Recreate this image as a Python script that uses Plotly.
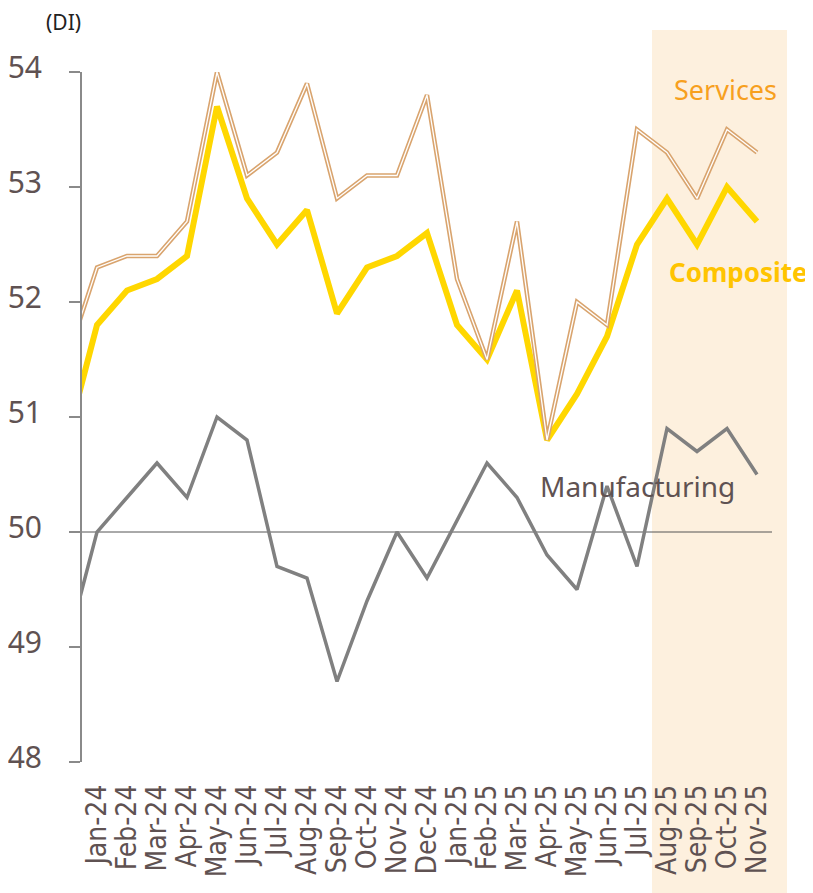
import plotly.graph_objects as go

# Dec-23 is included so the lines enter from the axis edge; it lies outside the visible range
months = ["Dec-23", "Jan-24", "Feb-24", "Mar-24", "Apr-24", "May-24", "Jun-24", "Jul-24", "Aug-24",
          "Sep-24", "Oct-24", "Nov-24", "Dec-24", "Jan-25", "Feb-25", "Mar-25", "Apr-25",
          "May-25", "Jun-25", "Jul-25", "Aug-25", "Sep-25", "Oct-25", "Nov-25"]
services = [51.5, 52.3, 52.4, 52.4, 52.7, 54.0, 53.1, 53.3, 53.9, 52.9, 53.1, 53.1, 53.8,
            52.2, 51.5, 52.7, 50.8, 52.0, 51.8, 53.5, 53.3, 52.9, 53.5, 53.3]
composite = [50.8, 51.8, 52.1, 52.2, 52.4, 53.7, 52.9, 52.5, 52.8, 51.9, 52.3, 52.4, 52.6,
             51.8, 51.5, 52.1, 50.8, 51.2, 51.7, 52.5, 52.9, 52.5, 53.0, 52.7]
manufacturing = [49.0, 50.0, 50.3, 50.6, 50.3, 51.0, 50.8, 49.7, 49.6, 48.7, 49.4, 50.0, 49.6,
                 50.1, 50.6, 50.3, 49.8, 49.5, 50.4, 49.7, 50.9, 50.7, 50.9, 50.5]
y_ticks = [48, 49, 50, 51, 52, 53, 54]
shown_months = months[1:]
highlight_start = "Aug-25"

XFONT = "DejaVu Sans Condensed, Liberation Sans Narrow, sans-serif"
TXT = "#5f5252"

fig = go.Figure()
fig.add_trace(go.Scatter(x=months, y=manufacturing, mode="lines",
                         line=dict(color="#808080", width=3.5), hoverinfo="skip"))
fig.add_trace(go.Scatter(x=months, y=composite, mode="lines",
                         line=dict(color="#FFD700", width=6), hoverinfo="skip"))
fig.add_trace(go.Scatter(x=months, y=services, mode="lines",
                         line=dict(color="#D9A46E", width=4.5), hoverinfo="skip"))
fig.add_trace(go.Scatter(x=months, y=services, mode="lines",
                         line=dict(color="#ffffff", width=1.3), hoverinfo="skip"))

n = len(months)
x_lo, x_hi = 0.5, n - 0.5
span = x_hi - x_lo
hs = months.index(highlight_start) - 0.5
fig.add_shape(type="rect", xref="paper", yref="paper",
              x0=(hs - x_lo) / span, x1=(n - x_lo) / span,
              y0=-0.19, y1=1.061, fillcolor="#FDF0DE", line_width=0, layer="below")
fig.add_shape(type="line", xref="paper", yref="y", x0=0, x1=1, y0=50, y1=50,
              line=dict(color="#555555", width=1), layer="below")

fig.add_annotation(text="(DI)", xref="paper", yref="paper", x=-0.053, y=1.072,
                   xanchor="left", yanchor="middle", showarrow=False, borderpad=0,
                   font=dict(family="Noto Sans, sans-serif", size=21, color="#222222"))
fig.add_annotation(text="Services", x="Oct-25", y=53.85, showarrow=False, xshift=-2,
                   font=dict(family="Noto Sans, sans-serif", size=27, color="#F7A01E"))
fig.add_annotation(text="<b>Composite</b>", x="Oct-25", y=52.26, showarrow=False,
                   xshift=11, font=dict(family="Noto Sans, sans-serif", size=26, color="#FFC400"))
fig.add_annotation(text="Manufacturing", x="Jul-25", y=50.4, showarrow=False,
                   font=dict(family="Noto Sans, sans-serif", size=28, color=TXT))

fig.update_layout(
    width=805, height=885,
    margin=dict(l=74, r=41, t=64, b=131, autoexpand=False),
    paper_bgcolor="white", plot_bgcolor="rgba(0,0,0,0)",
    showlegend=False,
    font=dict(family="Noto Sans, sans-serif", color=TXT),
)
fig.update_xaxes(type="category", range=[x_lo, x_hi], tickangle=-90,
                 tickmode="array", tickvals=shown_months, ticktext=shown_months,
                 tickfont=dict(size=28, family=XFONT, color=TXT), automargin=False,
                 ticklabelstandoff=16,
                 showgrid=False, showline=False, ticks="", zeroline=False)
fig.update_yaxes(range=[48, 54], tickvals=y_ticks, ticktext=[str(v) for v in y_ticks],
                 tickfont=dict(size=30, family="Noto Sans, sans-serif", color=TXT),
                 automargin=False, ticklabelstandoff=21, ticklabelshift=-5,
                 showgrid=False, showline=True, linecolor="#8a8a8a", linewidth=2,
                 ticks="outside", ticklen=11, tickcolor="#8a8a8a", tickwidth=2,
                 zeroline=False)

fig.write_html("out.html")
